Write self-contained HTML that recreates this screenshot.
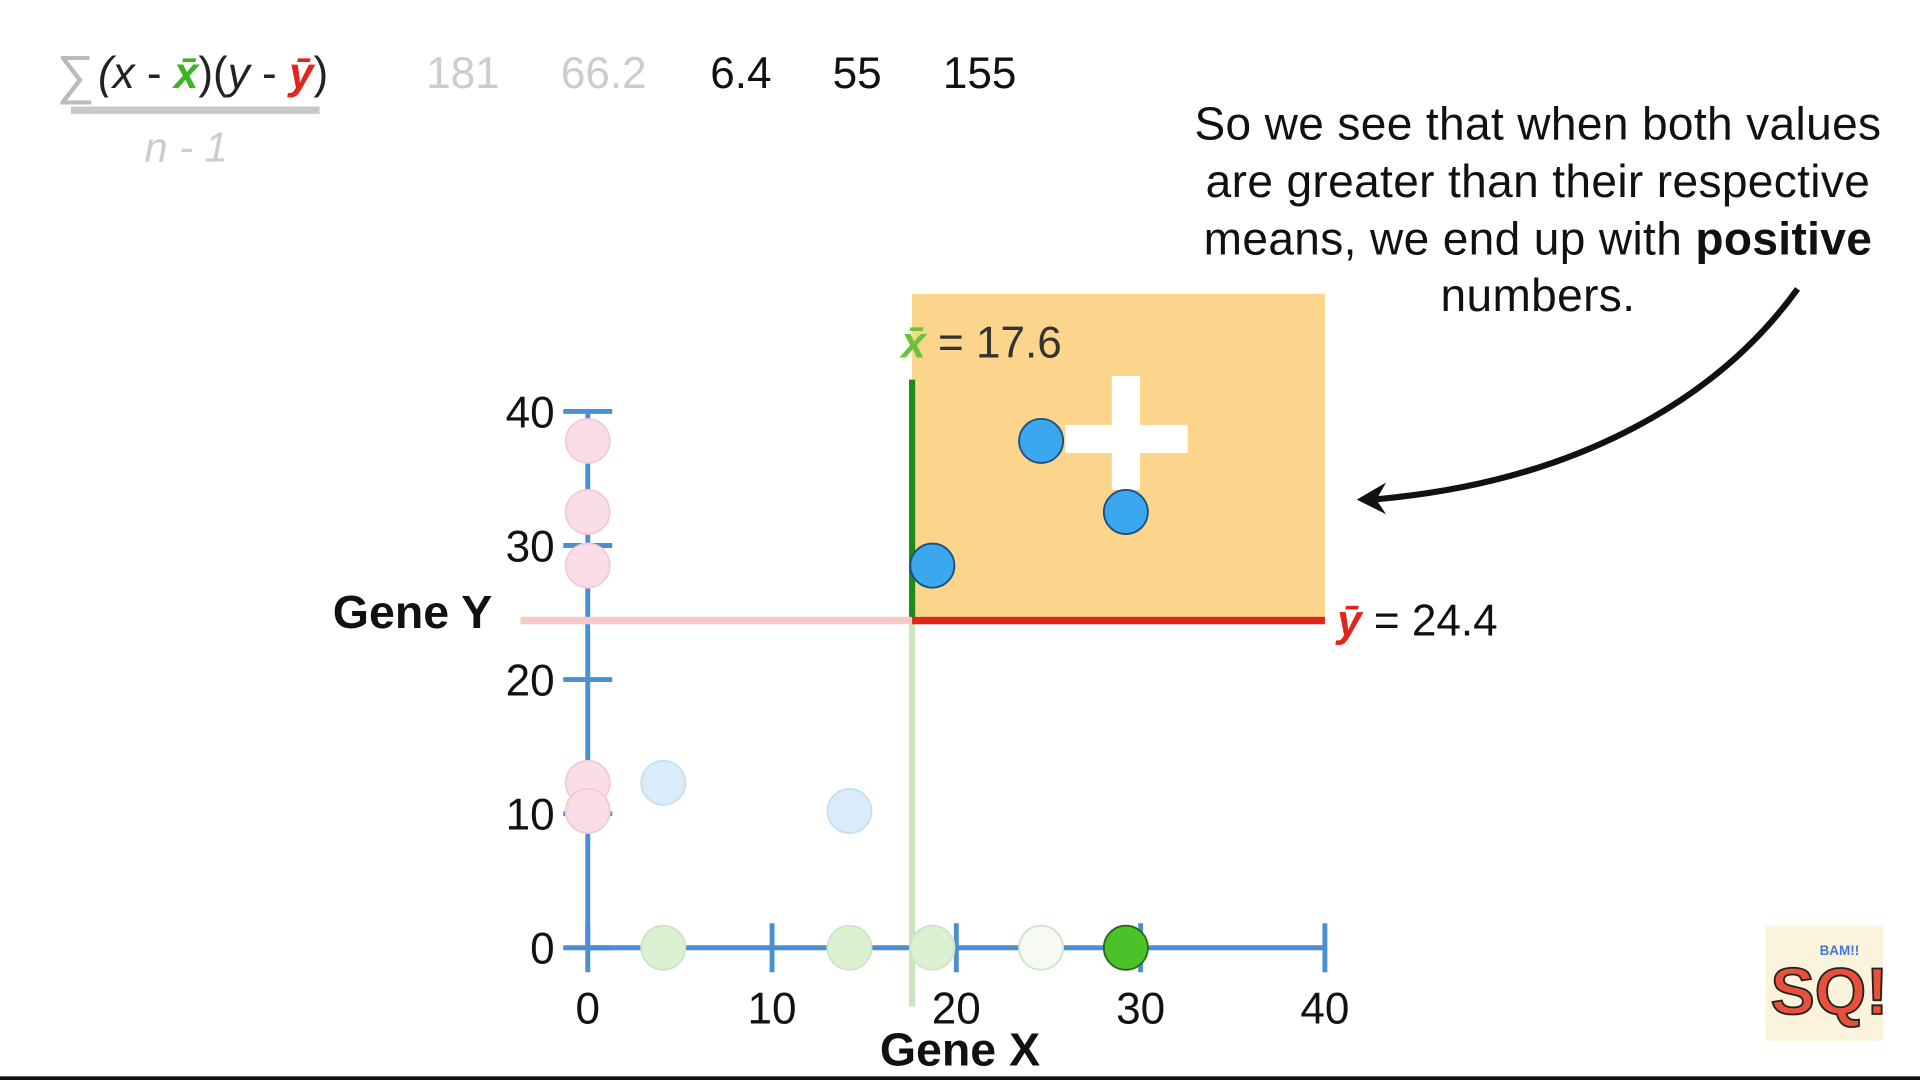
<!DOCTYPE html>
<html><head><meta charset="utf-8"><style>
html,body{margin:0;padding:0;background:#fff;overflow:hidden}
svg{display:block}
text{font-family:"Liberation Sans",sans-serif}
</style></head><body>
<svg width="1920" height="1080" viewBox="0 0 1568 882" preserveAspectRatio="none">
<rect x="0" y="0" width="1568" height="882" fill="#fff"/>
<rect x="0" y="879" width="1568" height="3" fill="#111"/>
<g>
<text x="46" y="76" font-size="44" fill="#bbb">∑</text>
<text x="80" y="72" font-size="36" fill="#222"><tspan font-style="italic">(x</tspan> - <tspan fill="#3cb521" font-weight="bold" font-style="italic">x̄</tspan>)(<tspan font-style="italic">y</tspan> - <tspan fill="#e0251b" font-weight="bold" font-style="italic">ȳ</tspan>)</text>
<rect x="58" y="87" width="203" height="6" fill="#c8c8c8"/>
<text x="118" y="132" font-size="34" fill="#ccc" font-style="italic">n - 1</text>
</g>
<g font-size="36">
<text x="348" y="72" fill="#ccc">181</text>
<text x="458" y="72" fill="#ccc">66.2</text>
<text x="580" y="72" fill="#111">6.4</text>
<text x="680" y="72" fill="#111">55</text>
<text x="770" y="72" fill="#111">155</text>
</g>
<g font-size="37.6" fill="#111" text-anchor="middle" letter-spacing="0.3">
<text x="1256" y="114">So we see that when both values</text>
<text x="1256" y="161">are greater than their respective</text>
<text x="1256" y="208">means, we end up with <tspan font-weight="bold">positive</tspan></text>
<text x="1256" y="254">numbers.</text>
</g>
<path d="M1468,236 C1400,330 1280,395 1120,408" fill="none" stroke="#111" stroke-width="5"/>
<path d="M1108,408 L1132,394 L1124,408 L1132,420 Z" fill="#111"/>
<g id="plot"></g>
<g>
<rect x="1442" y="756" width="96" height="94" fill="#fbf3dc"/>
<text x="1446" y="828" font-size="54" font-weight="bold" fill="#e8503c" stroke="#222" stroke-width="1.5">SQ!</text>
<text x="1486" y="780" font-size="11" font-weight="bold" fill="#3a7bd5">BAM!!</text>
</g>
</svg>
<script>
const xTicks=[0,10,20,30,40];
const yTicks=[0,10,20,30,40];
const pointsX=[24.6,29.2,18.7,4.1,14.2];
const pointsY=[37.8,32.5,28.5,12.3,10.2];
const pointActive=[true,true,true,false,false];
const projActiveX=[false,true,false,false,false];
const meanX=17.6, meanY=24.4;
const sx=v=>480+v*15.05, sy=v=>774-v*10.95;
const NS="http://www.w3.org/2000/svg";
const g=document.getElementById('plot');
function mk(t,a){const e=document.createElementNS(NS,t);for(const k in a)e.setAttribute(k,a[k]);g.appendChild(e);return e;}
let e;
e=mk('rect',{x:sx(meanX),y:240,width:sx(40)-sx(meanX),height:sy(meanY)-240,fill:'#fad58b'});


e=mk('rect',{x:908,y:307,width:23,height:93,fill:'#fff'});


e=mk('rect',{x:870,y:347,width:100,height:23,fill:'#fff'});


e=mk('line',{x1:sx(0),y1:sy(40),x2:sx(0),y2:sy(0),stroke:'#4a90d0','stroke-width':4});


e=mk('line',{x1:sx(0),y1:sy(0),x2:sx(40),y2:sy(0),stroke:'#4a90d0','stroke-width':4});


yTicks.forEach(v=>{
 e=mk('line',{x1:460,y1:sy(v),x2:500,y2:sy(v),stroke:'#4a90d0','stroke-width':4});
 
 
 e=mk('text',{x:453,y:sy(v)+13,'font-size':36,'text-anchor':'end',fill:'#111'});e.textContent=v;
 
 
});
xTicks.forEach(v=>{
 e=mk('line',{x1:sx(v),y1:754,x2:sx(v),y2:794,stroke:'#4a90d0','stroke-width':4});
 
 
 e=mk('text',{x:sx(v),y:836,'font-size':36,'text-anchor':'middle',fill:'#111'});e.textContent=v;
 
 
});
e=mk('text',{x:784,y:870,'font-size':38,'font-weight':'bold','text-anchor':'middle',fill:'#111'});e.textContent='Gene X';


e=mk('text',{x:402,y:513,'font-size':38,'font-weight':'bold','text-anchor':'end',fill:'#111'});e.textContent='Gene Y';


e=mk('line',{x1:sx(meanX),y1:sy(meanY),x2:sx(meanX),y2:822,stroke:'#c9e6c0','stroke-width':5});


e=mk('line',{x1:sx(meanX),y1:310,x2:sx(meanX),y2:sy(meanY),stroke:'#1a8a1a','stroke-width':5});


e=mk('line',{x1:425,y1:sy(meanY),x2:sx(meanX),y2:sy(meanY),stroke:'#fbc8c8','stroke-width':6});


e=mk('line',{x1:sx(meanX),y1:sy(meanY),x2:sx(40),y2:sy(meanY),stroke:'#e0251b','stroke-width':6});


e=mk('text',{x:736,y:292,'font-size':36,fill:'#333'});
e.innerHTML='<tspan fill="#6cc23a" font-weight="bold" font-style="italic">x̄</tspan> = '+meanX;


e=mk('text',{x:1092,y:519,'font-size':36,fill:'#111'});
e.innerHTML='<tspan fill="#e0251b" font-weight="bold" font-style="italic">ȳ</tspan> = '+meanY;


pointsY.forEach((v,i)=>{
 e=mk('circle',{cx:sx(0),cy:sy(v),r:18,fill:'#fadde6',stroke:'#f3cbd8','stroke-width':1.5});
 
 
});
pointsX.forEach((v,i)=>{
 const act=projActiveX[i];
 e=mk('circle',{cx:sx(v),cy:sy(0),r:18,fill:act?'#4cc22a':(i===0?'#f6f9f4':'#dcf0d2'),stroke:act?'#2a6a1a':'#cfe6c6','stroke-width':1.5});
 
 
});
pointsX.forEach((v,i)=>{
 const act=pointActive[i];
 e=mk('circle',{cx:sx(v),cy:sy(pointsY[i]),r:18,fill:act?'#3aa7ee':'#daecf9',stroke:act?'#1d4f80':'#c6e0f3','stroke-width':1.5});
 
 
});
</script>
</body></html>
